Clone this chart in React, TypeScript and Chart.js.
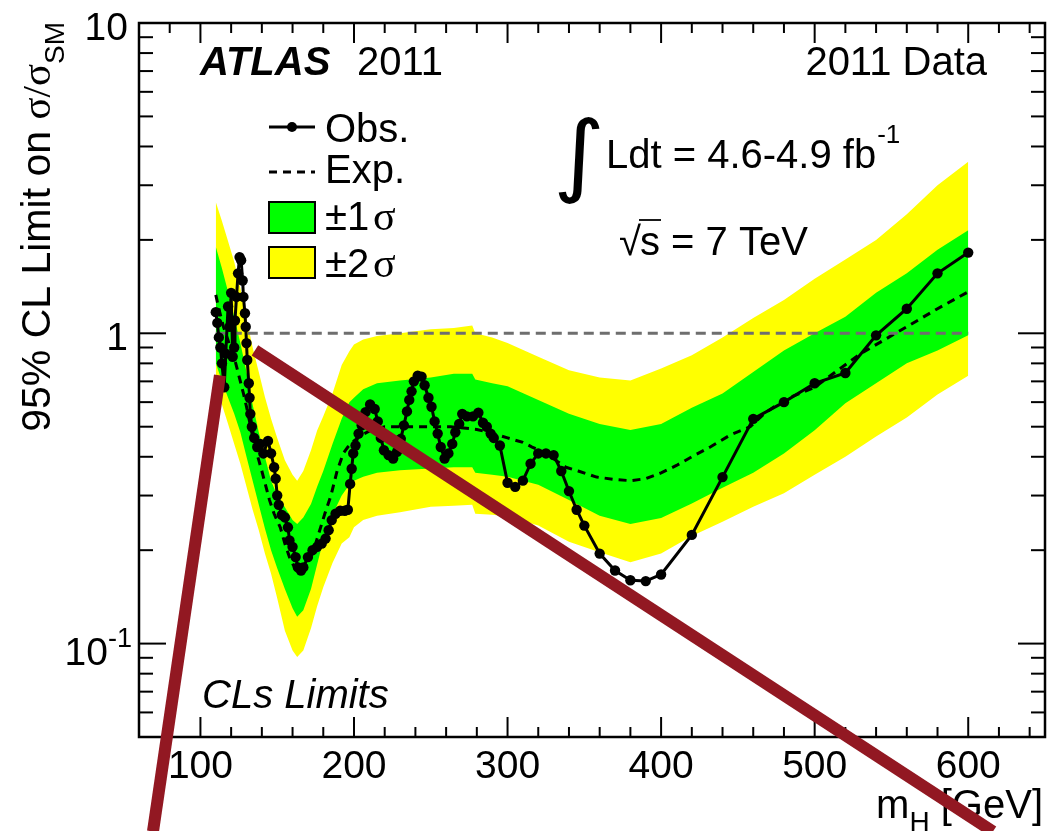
import React, { useEffect, useRef } from "react";
import { Chart, registerables } from "chart.js";

Chart.register(...registerables);

// ---------- data ----------
const obsX = [110, 111, 112, 113, 114, 115.5, 116.5, 118, 119, 120, 121, 122, 122.5, 123.5, 124.5, 125.5, 126.5, 127.5, 128, 129, 129.5, 130, 130.5, 131.5, 132, 132.5, 133.5, 135, 137, 139, 141, 144, 146, 148, 149, 150, 151, 153, 155, 157, 158, 160, 162, 163.5, 165.5, 167, 170, 173, 176, 179, 181.5, 183.5, 185.5, 188, 191, 194, 196, 197.5, 198.5, 199.5, 201, 203, 205, 207.5, 210.5, 213.5, 215.5, 217.5, 219.5, 222.5, 225.5, 228, 230.5, 232.5, 234.5, 236, 237.5, 239, 241.5, 244, 246, 248.5, 250.5, 252.5, 254.5, 256.5, 259, 261.5, 264, 266, 268.5, 270.5, 273.5, 277.5, 281, 284, 286.5, 289, 291, 295, 300, 305, 310, 315, 320, 325, 330, 335, 340, 345, 350, 360, 370, 380, 390, 400, 420, 440, 460, 480, 500, 520, 540, 560, 580, 600];
const obsY = [1.17, 1.08, 0.97, 0.9, 0.8, 0.67, 0.86, 1.22, 1.05, 1.35, 0.84, 0.9, 1.1, 1.31, 1.56, 1.76, 1.72, 1.48, 1.31, 1.16, 1.05, 0.93, 0.82, 0.69, 0.62, 0.55, 0.5, 0.46, 0.43, 0.44, 0.41, 0.45, 0.41, 0.37, 0.34, 0.3, 0.28, 0.26, 0.255, 0.237, 0.215, 0.205, 0.19, 0.176, 0.172, 0.176, 0.19, 0.2, 0.205, 0.21, 0.218, 0.232, 0.25, 0.262, 0.268, 0.268, 0.27, 0.327, 0.366, 0.41, 0.435, 0.475, 0.505, 0.557, 0.59, 0.57, 0.52, 0.46, 0.42, 0.405, 0.395, 0.415, 0.457, 0.505, 0.56, 0.61, 0.65, 0.7, 0.73, 0.725, 0.68, 0.62, 0.58, 0.52, 0.475, 0.43, 0.395, 0.41, 0.44, 0.48, 0.51, 0.55, 0.54, 0.54, 0.555, 0.515, 0.5, 0.475, 0.46, 0.435, 0.33, 0.32, 0.335, 0.38, 0.41, 0.41, 0.405, 0.36, 0.31, 0.27, 0.24, 0.195, 0.172, 0.16, 0.159, 0.167, 0.224, 0.344, 0.53, 0.6, 0.69, 0.745, 0.985, 1.2, 1.56, 1.82];

const expX = [110, 112, 115, 118, 120, 123, 126, 128, 130, 132, 135, 138, 140, 142, 145, 148, 152, 155, 158, 161, 164, 168, 173, 177, 181, 185, 189, 193, 196, 200, 205, 212, 220, 238, 263, 280, 291, 300, 310, 316, 325, 338, 346, 358, 370, 380, 390, 400, 410, 420, 432, 445, 458, 467, 480, 500, 515, 530, 545, 560, 580, 600];
const expY = [1.33, 1.2, 1.05, 0.95, 0.88, 0.8, 0.7, 0.64, 0.58, 0.52, 0.44, 0.39, 0.36, 0.33, 0.29, 0.262, 0.237, 0.21, 0.19, 0.177, 0.17, 0.177, 0.195, 0.226, 0.262, 0.3, 0.36, 0.41, 0.43, 0.45, 0.47, 0.49, 0.5, 0.5, 0.5, 0.49, 0.475, 0.46, 0.445, 0.43, 0.41, 0.37, 0.36, 0.344, 0.338, 0.335, 0.34, 0.355, 0.375, 0.4, 0.43, 0.47, 0.5, 0.55, 0.61, 0.67, 0.76, 0.86, 0.95, 1.05, 1.2, 1.36];

const bandX = [110, 114, 118, 122, 126, 130, 134, 138, 142, 146, 150, 155, 160, 163, 167, 172, 176, 180, 186, 192, 197, 200, 206, 215, 230, 250, 265, 277, 279, 290, 300, 320, 340, 360, 380, 400, 420, 440, 460, 480, 500, 520, 540, 560, 580, 600];
const plus2Y = [2.65, 2.3, 1.98, 1.7, 1.4, 1.12, 0.9, 0.75, 0.623, 0.53, 0.46, 0.39, 0.35, 0.335, 0.36, 0.42, 0.486, 0.54, 0.64, 0.79, 0.875, 0.92, 0.955, 0.98, 1.0, 1.03, 1.04, 1.06, 1.0, 0.97, 0.93, 0.84, 0.76, 0.72, 0.705, 0.77, 0.85, 0.97, 1.12, 1.28, 1.5, 1.73, 2.0, 2.42, 3.0, 3.57];
const plus1Y = [1.9, 1.62, 1.36, 1.13, 0.93, 0.75, 0.59, 0.48, 0.4, 0.335, 0.3, 0.275, 0.25, 0.243, 0.255, 0.282, 0.32, 0.36, 0.44, 0.53, 0.6, 0.62, 0.66, 0.69, 0.705, 0.72, 0.74, 0.74, 0.71, 0.69, 0.675, 0.61, 0.55, 0.51, 0.488, 0.51, 0.575, 0.64, 0.75, 0.88, 1.0, 1.13, 1.35, 1.56, 1.86, 2.15];
const minus1Y = [0.8, 0.7, 0.62, 0.55, 0.48, 0.4, 0.335, 0.28, 0.235, 0.2, 0.175, 0.15, 0.13, 0.122, 0.128, 0.15, 0.18, 0.215, 0.26, 0.3, 0.325, 0.335, 0.345, 0.355, 0.362, 0.367, 0.37, 0.37, 0.355, 0.35, 0.345, 0.325, 0.29, 0.258, 0.243, 0.254, 0.283, 0.318, 0.355, 0.41, 0.487, 0.595, 0.69, 0.8, 0.88, 0.985];
const minus2Y = [0.68, 0.59, 0.51, 0.44, 0.38, 0.32, 0.27, 0.232, 0.195, 0.168, 0.14, 0.11, 0.095, 0.0905, 0.095, 0.112, 0.132, 0.152, 0.182, 0.21, 0.22, 0.237, 0.25, 0.258, 0.265, 0.276, 0.278, 0.28, 0.262, 0.26, 0.257, 0.24, 0.213, 0.197, 0.183, 0.195, 0.222, 0.247, 0.276, 0.305, 0.35, 0.4, 0.465, 0.535, 0.635, 0.73];

const refLineX = [110, 600];
const refLineY = [1, 1];

// hand-drawn annotation strokes over the plot
const strokeAX = [69.1, 112.7];
const strokeAY = [0.0248, 0.732];
const strokeBX = [135.5, 616.1];
const strokeBY = [0.881, 0.0248];

const xLabels = [100, 200, 300, 400, 500, 600];

// ---------- styling ----------
const SANS = '"Liberation Sans", Arial, Helvetica, sans-serif';
const SERIF = '"Liberation Serif", "Times New Roman", serif';
const GREEN = "#00ff00";
const YELLOW = "#ffff00";
const BROWN = "rgb(146, 24, 34)";

const pts = (xs: number[], ys: number[]) => xs.map((x, i) => ({ x, y: ys[i] }));

const decor = {
  id: "decor",
  beforeDatasetsDraw(chart: any) {
    const { ctx, chartArea: a, scales } = chart;
    const xs = scales.x;
    const ys = scales.y;
    ctx.save();
    ctx.fillStyle = "#000";
    ctx.strokeStyle = "#000";
    const seg = (x1: number, y1: number, x2: number, y2: number) => {
      ctx.beginPath();
      ctx.moveTo(x1, y1);
      ctx.lineTo(x2, y2);
      ctx.stroke();
    };
    // frame
    ctx.lineWidth = 2.5;
    ctx.strokeRect(a.left, a.top, a.right - a.left, a.bottom - a.top);
    // x ticks (inside, mirrored)
    ctx.lineWidth = 2;
    for (let v = 80; v <= 640; v += 20) {
      const px = xs.getPixelForValue(v);
      const len = v % 100 === 0 ? 20 : 10;
      seg(px, a.bottom, px, a.bottom - len);
      seg(px, a.top, px, a.top + len);
    }
    // y ticks (log)
    for (const d of [0.01, 0.1, 1]) {
      for (let k = 1; k <= 9; k++) {
        const v = k * d;
        if (v <= 0.05 + 1e-9 || v >= 10) continue;
        const py = ys.getPixelForValue(v);
        const len = k === 1 ? 27 : 14;
        seg(a.left, py, a.left + len, py);
        seg(a.right, py, a.right - len, py);
      }
    }
    // x tick labels
    ctx.font = `39px ${SANS}`;
    ctx.textAlign = "center";
    ctx.textBaseline = "alphabetic";
    for (const v of xLabels) ctx.fillText(String(v), xs.getPixelForValue(v), a.bottom + 41);
    // y tick labels
    ctx.textAlign = "right";
    ctx.fillText("10", 128, ys.getPixelForValue(10) + 17);
    ctx.fillText("1", 128, ys.getPixelForValue(1) + 17);
    const p01 = ys.getPixelForValue(0.1);
    ctx.fillText("10", 108, p01 + 21);
    ctx.textAlign = "left";
    ctx.font = `27px ${SANS}`;
    ctx.fillText("-1", 108, p01 + 3);

    // y axis title (rotated, end-aligned at top)
    ctx.save();
    ctx.translate(50, 22);
    ctx.rotate(-Math.PI / 2);
    const yParts = [
      { t: "95% CL Limit on ", f: `41px ${SANS}`, dy: 0 },
      { t: "σ/σ", f: `41px ${SERIF}`, dy: 0 },
      { t: "SM", f: `28px ${SANS}`, dy: 14 },
    ];
    let tot = 0;
    for (const p of yParts) { ctx.font = p.f; tot += ctx.measureText(p.t).width; }
    let cx = -tot;
    ctx.textAlign = "left";
    for (const p of yParts) { ctx.font = p.f; ctx.fillText(p.t, cx, p.dy); cx += ctx.measureText(p.t).width; }
    ctx.restore();

    // x axis title (end-aligned)
    const xParts = [
      { t: "m", f: `40px ${SANS}`, dy: 0 },
      { t: "H", f: `28px ${SANS}`, dy: 13 },
      { t: " [GeV]", f: `40px ${SANS}`, dy: 0 },
    ];
    tot = 0;
    for (const p of xParts) { ctx.font = p.f; tot += ctx.measureText(p.t).width; }
    cx = 1043 - tot;
    for (const p of xParts) { ctx.font = p.f; ctx.fillText(p.t, cx, 818 + p.dy); cx += ctx.measureText(p.t).width; }

    // labels inside plot
    ctx.font = `italic bold 40px ${SANS}`;
    ctx.fillText("ATLAS", 200, 75);
    ctx.font = `40px ${SANS}`;
    ctx.fillText("2011", 357, 75);
    ctx.textAlign = "right";
    ctx.fillText("2011 Data", 987, 75);
    ctx.textAlign = "left";

    // integral sign fitted into its box
    ctx.font = `100px "DejaVu Sans", ${SANS}`;
    const m = ctx.measureText("∫");
    const gh = m.actualBoundingBoxAscent + m.actualBoundingBoxDescent;
    const gw = m.actualBoundingBoxLeft + m.actualBoundingBoxRight;
    ctx.save();
    ctx.translate(558, 205);
    ctx.scale(42 / gw, 88 / gh);
    ctx.fillText("∫", m.actualBoundingBoxLeft, -m.actualBoundingBoxDescent);
    ctx.restore();

    ctx.font = `40px ${SANS}`;
    const ldt = "Ldt = 4.6-4.9 fb";
    ctx.fillText(ldt, 606, 168);
    const ldtW = ctx.measureText(ldt).width;
    ctx.font = `26px ${SANS}`;
    ctx.fillText("-1", 606 + ldtW + 1, 143);

    // sqrt(s) = 7 TeV
    ctx.font = `40px ${SANS}`;
    const rw = ctx.measureText("√").width;
    ctx.fillText("√", 641 - rw, 255);
    const sw = ctx.measureText("s").width;
    ctx.fillText("s = 7 TeV", 640, 255);
    ctx.lineWidth = 1.8;
    seg(639, 220, 640 + sw + 1, 220);

    ctx.font = `italic 40px ${SANS}`;
    ctx.fillText("CLs Limits", 202, 708);

    // legend
    ctx.lineWidth = 3;
    seg(269, 127, 315, 127);
    ctx.beginPath();
    ctx.arc(292, 127, 5, 0, Math.PI * 2);
    ctx.fill();
    ctx.save();
    ctx.lineWidth = 3;
    ctx.setLineDash([8, 6]);
    seg(269, 172, 315, 172);
    ctx.restore();
    ctx.lineWidth = 2;
    ctx.fillStyle = GREEN;
    ctx.fillRect(269, 202, 46, 31);
    ctx.strokeRect(269, 202, 46, 31);
    ctx.fillStyle = YELLOW;
    ctx.fillRect(269, 247, 46, 31);
    ctx.strokeRect(269, 247, 46, 31);
    ctx.fillStyle = "#000";
    ctx.font = `40px ${SANS}`;
    ctx.fillText("Obs.", 325, 142);
    ctx.fillText("Exp.", 325, 183);
    ctx.fillText("±1", 325, 230);
    ctx.fillText("±2", 325, 277);
    ctx.font = `42px ${SERIF}`;
    ctx.fillText("σ", 373, 230);
    ctx.fillText("σ", 373, 277);
    ctx.restore();
  },
};

export default function App() {
  const ref = useRef<HTMLCanvasElement>(null);
  useEffect(() => {
    if (!ref.current) return;
    const chart = new Chart(ref.current, {
      type: "line",
      data: {
        datasets: [
          { label: "stroke A", data: pts(strokeAX, strokeAY), borderColor: BROWN, borderWidth: 12, pointRadius: 0, clip: false, order: 0, borderCapStyle: "butt", fill: false } as any,
          { label: "stroke B", data: pts(strokeBX, strokeBY), borderColor: BROWN, borderWidth: 12, pointRadius: 0, clip: false, order: 0, borderCapStyle: "butt", fill: false } as any,
          { label: "Obs.", data: pts(obsX, obsY), borderColor: "#000", borderWidth: 3, pointRadius: 5.2, pointBackgroundColor: "#000", pointBorderColor: "#000", pointBorderWidth: 0, order: 1, fill: false },
          { label: "SM", data: pts(refLineX, refLineY), borderColor: "#6e6e6e", borderWidth: 3, borderDash: [10, 6], pointRadius: 0, order: 2, fill: false },
          { label: "Exp.", data: pts(expX, expY), borderColor: "#000", borderWidth: 3, borderDash: [8, 6], pointRadius: 0, order: 3, fill: false },
          { label: "+1 sigma", data: pts(bandX, plus1Y), borderWidth: 0, borderColor: "rgba(0,0,0,0)", backgroundColor: GREEN, pointRadius: 0, order: 4, fill: 6 },
          { label: "-1 sigma", data: pts(bandX, minus1Y), borderWidth: 0, borderColor: "rgba(0,0,0,0)", pointRadius: 0, order: 4, fill: false },
          { label: "+2 sigma", data: pts(bandX, plus2Y), borderWidth: 0, borderColor: "rgba(0,0,0,0)", backgroundColor: YELLOW, pointRadius: 0, order: 5, fill: 8 },
          { label: "-2 sigma", data: pts(bandX, minus2Y), borderWidth: 0, borderColor: "rgba(0,0,0,0)", pointRadius: 0, order: 5, fill: false },
        ],
      },
      options: {
        animation: false,
        responsive: false,
        devicePixelRatio: 1,
        layout: { padding: { left: 139, right: 16, top: 23, bottom: 94 } },
        elements: { line: { tension: 0 } },
        scales: {
          x: { type: "linear", min: 60, max: 650, display: false },
          y: { type: "logarithmic", min: 0.05, max: 10, display: false },
        },
        plugins: {
          legend: { display: false },
          tooltip: { enabled: false },
          filler: { propagate: false },
        },
      } as any,
      plugins: [decor],
    });
    return () => chart.destroy();
  }, []);
  return (
    <div style={{ position: "absolute", left: 0, top: 0, width: 1061, height: 831, background: "#fff" }}>
      <canvas ref={ref} width={1061} height={831} style={{ display: "block", width: 1061, height: 831 }} />
    </div>
  );
}
